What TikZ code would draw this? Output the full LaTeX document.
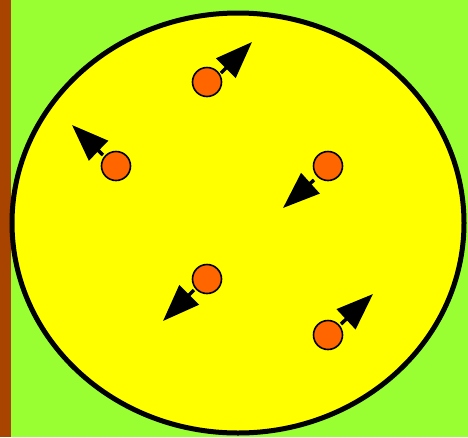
\documentclass[tikz,border=0pt]{standalone}
\usepackage{tikz}
\usetikzlibrary{arrows.meta}
\definecolor{wallbrown}{RGB}{168,68,0}
\definecolor{fieldgreen}{RGB}{153,255,51}
\definecolor{gasyellow}{RGB}{255,255,0}
\definecolor{molorange}{RGB}{255,102,0}
\tikzset{
  molecule/.style={
    circle, draw=black, line width=1.6pt, fill=molorange,
    minimum width=29pt, minimum height=28pt, inner sep=0pt
  },
  velarrow/.style={
    line width=3.5pt, -{Triangle[length=37pt, width=27pt]}
  },
}

\begin{document}
\begin{tikzpicture}[x=1pt, y=-1pt]
  \useasboundingbox (0,0) rectangle (468,437);

  % ── Background ──
  \fill[fieldgreen] (0,0) rectangle (468,437);
  \fill[wallbrown] (0,0) rectangle (11,437);

  % ── Container ──
  \draw[line width=5pt, fill=gasyellow] (238,223) ellipse [x radius=226pt, y radius=210pt];

  % ── Molecules ──
  \node[molecule] (m1) at (207,82) {};
  \node[molecule] (m2) at (116,166) {};
  \node[molecule] (m3) at (328,166) {};
  \node[molecule] (m4) at (207,279) {};
  \node[molecule] (m5) at (328,335) {};

  % ── Velocity arrows ──
  \coordinate (t1) at (221,73);  \coordinate (h1) at (252,42);
  \coordinate (t2) at (103,155); \coordinate (h2) at (72,125);
  \coordinate (t3) at (314,180); \coordinate (h3) at (283,208);
  \coordinate (t4) at (194,290); \coordinate (h4) at (163,321);
  \coordinate (t5) at (341,324); \coordinate (h5) at (373,294);

  \draw[velarrow] (t1) -- (h1);
  \draw[velarrow] (t2) -- (h2);
  \draw[velarrow] (t3) -- (h3);
  \draw[velarrow] (t4) -- (h4);
  \draw[velarrow] (t5) -- (h5);

\end{tikzpicture}
\end{document}
